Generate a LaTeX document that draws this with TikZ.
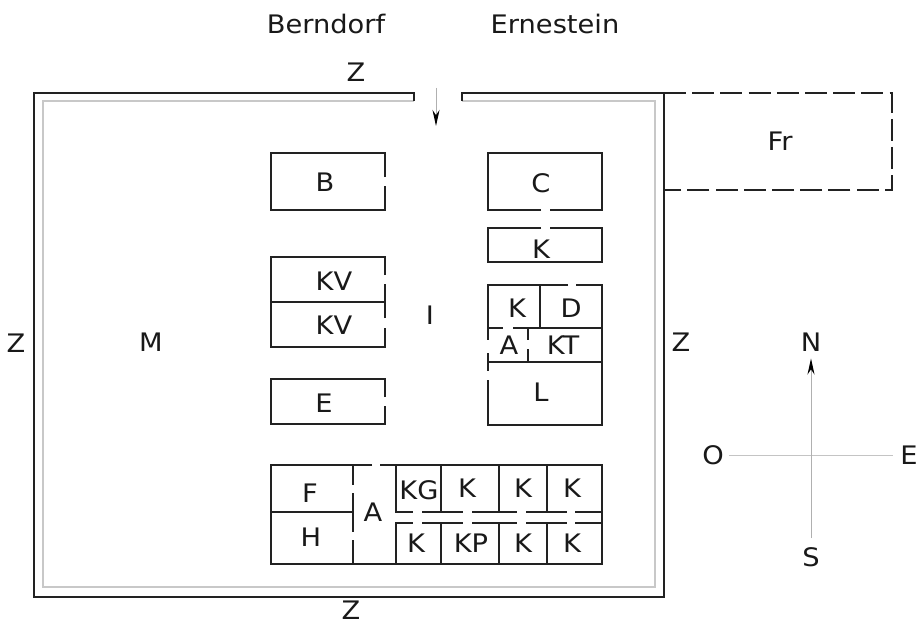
\documentclass[tikz,border=0pt]{standalone}
\usepackage{fontspec}
\setmainfont[FakeStretch=1.07]{DejaVu Sans}
\usetikzlibrary{arrows.meta}
\definecolor{wall}{HTML}{222222}
\definecolor{inner}{HTML}{C8C8C8}
\definecolor{guide}{HTML}{B0B0B0}
\definecolor{guidelight}{HTML}{C4C4C4}
\tikzset{
  x=1pt,y=-1pt,
  lbl/.style={font=\fontsize{25.5}{29}\selectfont,text=black!90,inner sep=0pt},
  cmp/.style={lbl,inner xsep=5pt,inner ysep=7pt},
  outerwall/.style={draw=wall,line width=2.6pt,line join=miter},
  innerwall/.style={draw=inner,line width=2pt},
  room/.style={draw=wall,line width=2.1pt,line join=miter},
  fence/.style={draw=wall,line width=2.1pt,dash pattern=on 22pt off 6.2pt},
  guideline/.style={draw=guide,line width=1pt},
  tip/.style={-{Stealth[length=16pt,width=7pt,color=black]}}
}
\begin{document}
\begin{tikzpicture}
\useasboundingbox[fill=white] (0,0) rectangle (918,623);
% walls
\draw[innerwall] (414,101) -- (43,101) -- (43,587) -- (655,587) -- (655,101) -- (462,101);
\draw[outerwall] (414,101) -- (414,93) -- (34,93) -- (34,597) -- (664,597) -- (664,93) -- (462,93) -- (462,101);
% Fr
\draw[fence] (664,93) -- (892,93) -- (892,190) -- (664,190);
% left rooms
\draw[room] (385,177) -- (385,153) -- (271,153) -- (271,210) -- (385,210) -- (385,186);
\draw[room] (385,275) -- (385,257) -- (271,257) -- (271,347) -- (385,347) -- (385,328);
\draw[room] (385,318) -- (385,284);
\draw[room] (271,302) -- (385,302);
\draw[room] (385,397) -- (385,379) -- (271,379) -- (271,424) -- (385,424) -- (385,406);
% right rooms
\draw[room] (541,210) -- (488,210) -- (488,153) -- (602,153) -- (602,210) -- (550,210);
\draw[room] (541,228) -- (488,228) -- (488,262) -- (602,262) -- (602,228) -- (550,228);
\draw[room] (568,285) -- (488,285) -- (488,340);
\draw[room] (576,285) -- (602,285) -- (602,425) -- (488,425) -- (488,380);
\draw[room] (488,353) -- (488,371);
\draw[room] (540,285) -- (540,328);
\draw[room] (488,328) -- (503,328);
\draw[room] (513,328) -- (602,328);
\draw[room] (488,362) -- (602,362);
\draw[room] (528,328) -- (528,340);
\draw[room] (528,349) -- (528,362);
% bottom block
\draw[room] (372,465) -- (271,465) -- (271,564) -- (602,564) -- (602,465) -- (380,465);
\draw[room] (353,465) -- (353,485);
\draw[room] (353,493) -- (353,532);
\draw[room] (353,540) -- (353,564);
\draw[room] (271,512) -- (353,512);
\draw[room] (396,465) -- (396,512) -- (413,512);
\draw[room] (422,512) -- (463,512);
\draw[room] (472,512) -- (517,512);
\draw[room] (526,512) -- (567,512);
\draw[room] (575,512) -- (602,512);
\draw[room] (396,564) -- (396,523) -- (413,523);
\draw[room] (422,523) -- (463,523);
\draw[room] (472,523) -- (517,523);
\draw[room] (526,523) -- (567,523);
\draw[room] (575,523) -- (602,523);
\foreach \vx in {441,499,547} {
  \draw[room] (\vx,465) -- (\vx,512);
  \draw[room] (\vx,523) -- (\vx,564);
}
% labels
\node[lbl] (berndorf) at (326,24) {Berndorf};
\node[lbl] (ernestein) at (555,24) {Ernestein};
\node[lbl] (ztop) at (356,72) {Z};
\node[lbl] (zleft) at (16,343) {Z};
\node[lbl] (zright) at (681,342) {Z};
\node[lbl] (zbottom) at (351,610.5) {Z};
\node[lbl] (m) at (151,342) {M};
\node[lbl] (i) at (430,315) {I};
\node[lbl] (fr) at (780,141) {Fr};
\node[lbl] (b) at (325,182) {B};
\node[lbl] (kv1) at (334,281) {KV};
\node[lbl] (kv2) at (334,325) {KV};
\node[lbl] (e) at (324,403) {E};
\node[lbl] (c) at (541,183) {C};
\node[lbl] (k0) at (541,249) {K};
\node[lbl] (k1) at (517,308) {K};
\node[lbl] (d) at (571,308) {D};
\node[lbl] (a1) at (509,345) {A};
\node[lbl] (kt) at (563,345) {KT};
\node[lbl] (l) at (541,392) {L};
\node[lbl] (f) at (310,493) {F};
\node[lbl] (h) at (311,537) {H};
\node[lbl] (a2) at (373,512) {A};
\node[lbl] (kg) at (419,490) {KG};
\node[lbl] (k2) at (467,488) {K};
\node[lbl] (k3) at (523,488) {K};
\node[lbl] (k4) at (572,488) {K};
\node[lbl] (k5) at (416,543) {K};
\node[lbl] (kp) at (471,543) {KP};
\node[lbl] (k6) at (523,543) {K};
\node[lbl] (k7) at (572,543) {K};
% gate arrow
\coordinate (gateout) at (436,88);
\coordinate (gatein) at (436,126);
\draw[guideline,tip] (gateout) -- (gatein);
% compass
\node[cmp] (north) at (811,342) {N};
\node[cmp,inner ysep=9pt] (south) at (811,557) {S};
\node[cmp] (west) at (713,455.5) {O};
\node[cmp,inner xsep=7pt] (east) at (909,455.5) {E};
\draw[draw=guidelight,line width=1.6pt] (west) -- (east);
\draw[guideline,tip] (south) -- (north);
\end{tikzpicture}
\end{document}
